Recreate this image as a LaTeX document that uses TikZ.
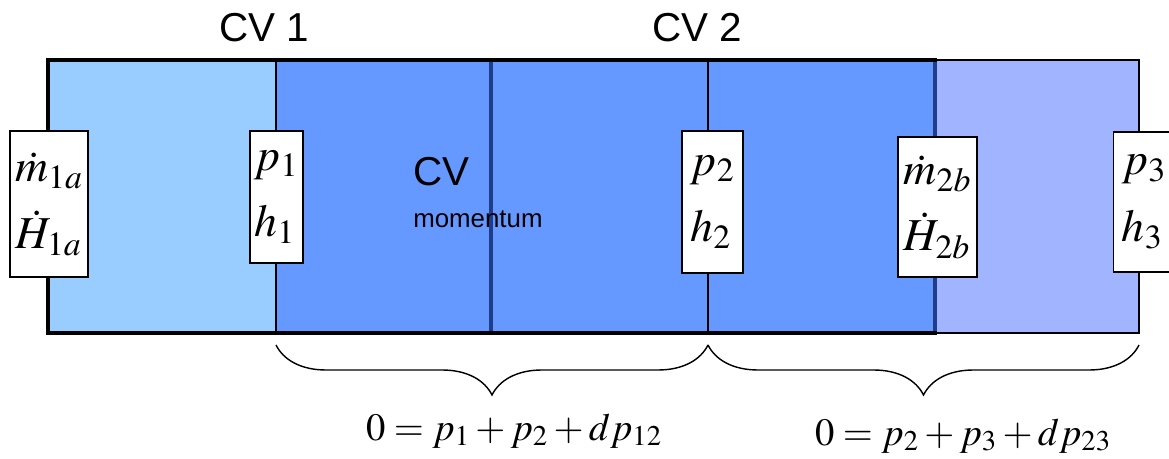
\documentclass[tikz,border=0pt]{standalone}
\usepackage{mathptmx}
\usepackage{fontspec}
\setsansfont{Liberation Sans}
\usepackage{xcolor}
\usetikzlibrary{decorations.pathreplacing}

\definecolor{cvlight}{HTML}{99CCFF}
\definecolor{cvdark}{HTML}{6699FF}
\definecolor{cvnext}{HTML}{A0B4FF}
\definecolor{cvnavy}{HTML}{203D8C}

\begin{document}
\begin{tikzpicture}[
    x=0.02cm, y=-0.02cm,
    valbox/.style={
        draw,
        fill=white,
        line width=0.9pt,
        inner sep=1pt,
        align=left,
        font=\fontsize{26}{38}\selectfont
    },
    cvlabel/.style={inner sep=0pt, font=\sffamily\fontsize{23}{27}\selectfont},
    smalllabel/.style={inner sep=0pt, font=\sffamily\fontsize{14.7}{17}\selectfont},
    eqlabel/.style={inner sep=0pt, anchor=base, font=\fontsize{22}{26}\selectfont},
    thinline/.style={line width=0.85pt},
    thickframe/.style={line width=2.3pt},
    navyline/.style={draw=cvnavy, line width=2.3pt},
    bracedec/.style={line width=0.8pt, decorate, decoration={brace, mirror, amplitude=1cm}}
]
\useasboundingbox (0,0) rectangle (1169,459);

% control volume fills
\fill[cvlight] (48,60) rectangle (276,333);
\fill[cvdark] (276,60) rectangle (935,333);
\filldraw[fill=cvnext, thinline] (935,60) rectangle (1139,333);

% boundaries
\draw[thinline] (276,60) -- (276,333);
\draw[thinline] (708,60) -- (708,333);
\draw[thickframe] (48,60) rectangle (935,333);
\draw[navyline] (491,62) -- (491,331);
\draw[navyline] (935,62) -- (935,331);

% boundary values
\node[valbox, minimum width=1.56cm, minimum height=2.92cm] (inflow) at (49,204) {$\dot{m}_{1a}$\\$\dot{H}_{1a}$};
\node[valbox, minimum width=1.06cm, minimum height=2.64cm] (stateone) at (276.5,197) {$p_1$\\$h_1$};
\node[valbox, minimum width=1.22cm, minimum height=2.84cm] (statetwo) at (712.5,202) {$p_2$\\$h_2$};
\node[valbox, minimum width=1.58cm, minimum height=2.80cm] (outflow) at (937.5,207) {$\dot{m}_{2b}$\\$\dot{H}_{2b}$};
\node[valbox, minimum width=1.22cm, minimum height=2.80cm] (statethree) at (1144,202) {$p_3$\\$h_3$};

% labels
\node[cvlabel] (cvone) at (264,28) {CV 1};
\node[cvlabel] (cvtwo) at (697,28) {CV 2};
\node[cvlabel, anchor=base west] (cvmom) at (413,186) {CV};
\node[smalllabel, anchor=base west] (cvmomsub) at (413,228) {momentum};

% momentum balances
\draw[bracedec] (276,345) -- (708,345);
\draw[bracedec] (708,345) -- (1139,345);
\node[eqlabel] (balone) at (514,440) {$0 = p_1 + p_2 + dp_{12}$};
\node[eqlabel] (baltwo) at (963,445) {$0 = p_2 + p_3 + dp_{23}$};
\end{tikzpicture}
\end{document}
